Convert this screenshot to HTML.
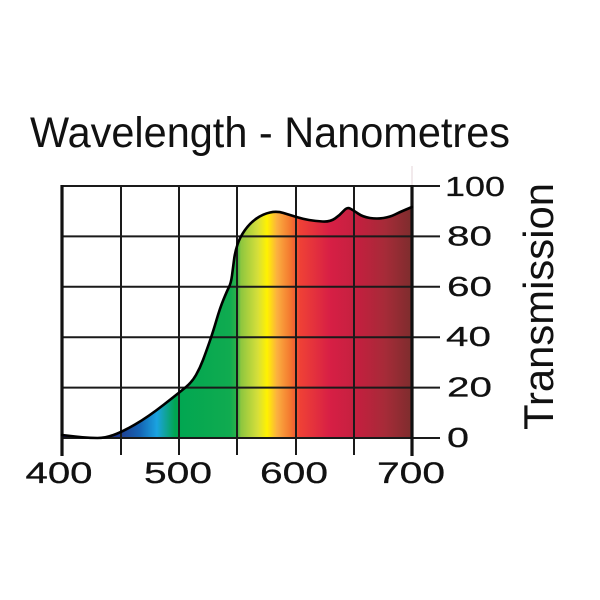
<!DOCTYPE html>
<html>
<head>
<meta charset="utf-8">
<style>
html,body{margin:0;padding:0;background:#fff;}
svg{display:block;}
text{font-family:"Liberation Sans",Arial,sans-serif;fill:#111;}
</style>
</head>
<body>
<svg width="600" height="600" viewBox="0 0 600 600" xmlns="http://www.w3.org/2000/svg">
<defs>
<linearGradient id="spec" gradientUnits="userSpaceOnUse" x1="62" y1="0" x2="412" y2="0">
<stop offset="0" stop-color="#1b1464"/>
<stop offset="0.11" stop-color="#1b2a7a"/>
<stop offset="0.166" stop-color="#1f3d8f"/>
<stop offset="0.223" stop-color="#1565b5"/>
<stop offset="0.271" stop-color="#1aa3e0"/>
<stop offset="0.294" stop-color="#12a3a0"/>
<stop offset="0.323" stop-color="#00a651"/>
<stop offset="0.48" stop-color="#10ab50"/>
<stop offset="0.5" stop-color="#2cb34a"/>
<stop offset="0.511" stop-color="#8dc63f"/>
<stop offset="0.56" stop-color="#d7df3a"/>
<stop offset="0.586" stop-color="#fff200"/>
<stop offset="0.614" stop-color="#fbb040"/>
<stop offset="0.651" stop-color="#f47a30"/>
<stop offset="0.68" stop-color="#ef4136"/>
<stop offset="0.766" stop-color="#d71f45"/>
<stop offset="0.851" stop-color="#c1203e"/>
<stop offset="0.923" stop-color="#a62b38"/>
<stop offset="1" stop-color="#7d2d2d"/>
</linearGradient>
</defs>

<!-- title -->
<text x="30" y="147" font-size="43" textLength="480" lengthAdjust="spacingAndGlyphs">Wavelength - Nanometres</text>

<!-- faint line -->
<line x1="412" y1="166" x2="412" y2="186" stroke="#e6d4d8" stroke-width="1"/>

<!-- fill -->
<path fill="url(#spec)" d="M62,435 L68.5,435.75 Q75,436.5 82.5,437.25 Q90,438 97.5,438 Q105,438 113.5,435 Q122,432 135,424.5 Q148,417 164,404.5 Q180,392 186,387 Q192,382 196,375 Q200,368 203,360 Q206,352 209.5,342 Q213,332 216.5,320 Q220,308 223.5,299.5 Q227,291 229,287 Q231,283 232,275.5 Q233,268 234,260 Q235,252 237.5,244.5 Q240,237 245,230 Q250,223 256.5,218.5 Q263,214 270,212.5 Q277,211 283.5,213 Q290,215 296.5,217 Q303,219 309,220 Q315,221 322.5,221.5 Q330,222 335,218.5 Q340,215 343.5,211 Q347,207 350,208.5 Q353,210 358,213.5 Q363,217 370,218 Q377,219 383.5,218 Q390,217 395,214.5 Q400,212 406,209.5 L412,207 L412,438 L62,438 Z"/>

<!-- grid -->
<g stroke="#1a1a1a" stroke-width="2" fill="none">
<line x1="62" y1="186" x2="440" y2="186"/>
<line x1="62" y1="236.4" x2="440" y2="236.4"/>
<line x1="62" y1="286.8" x2="440" y2="286.8"/>
<line x1="62" y1="337.2" x2="440" y2="337.2"/>
<line x1="62" y1="387.6" x2="440" y2="387.6"/>
<line x1="62" y1="438" x2="440" y2="438"/>
<line x1="121" y1="186" x2="121" y2="455"/>
<line x1="179" y1="186" x2="179" y2="455"/>
<line x1="237" y1="186" x2="237" y2="455"/>
<line x1="296" y1="186" x2="296" y2="455"/>
<line x1="354" y1="186" x2="354" y2="455"/>
</g>
<g stroke="#111" stroke-width="3.2">
<line x1="62" y1="185" x2="62" y2="456"/>
<line x1="412" y1="185" x2="412" y2="456"/>
</g>

<!-- curve -->
<path fill="none" stroke="#000" stroke-width="2.6" stroke-linejoin="round" stroke-linecap="round" d="M62,435 L68.5,435.75 Q75,436.5 82.5,437.25 Q90,438 97.5,438 Q105,438 113.5,435 Q122,432 135,424.5 Q148,417 164,404.5 Q180,392 186,387 Q192,382 196,375 Q200,368 203,360 Q206,352 209.5,342 Q213,332 216.5,320 Q220,308 223.5,299.5 Q227,291 229,287 Q231,283 232,275.5 Q233,268 234,260 Q235,252 237.5,244.5 Q240,237 245,230 Q250,223 256.5,218.5 Q263,214 270,212.5 Q277,211 283.5,213 Q290,215 296.5,217 Q303,219 309,220 Q315,221 322.5,221.5 Q330,222 335,218.5 Q340,215 343.5,211 Q347,207 350,208.5 Q353,210 358,213.5 Q363,217 370,218 Q377,219 383.5,218 Q390,217 395,214.5 Q400,212 406,209.5 L412,207"/>

<!-- bottom labels -->
<g font-size="30" text-anchor="middle" stroke="#111" stroke-width="0.3">
<text x="59" y="483" textLength="67" lengthAdjust="spacingAndGlyphs">400</text>
<text x="178" y="483" textLength="68" lengthAdjust="spacingAndGlyphs">500</text>
<text x="294" y="483" textLength="68" lengthAdjust="spacingAndGlyphs">600</text>
<text x="411" y="483" textLength="68" lengthAdjust="spacingAndGlyphs">700</text>
</g>

<!-- right labels -->
<g font-size="28" stroke="#111" stroke-width="0.25">
<text x="445" y="196" textLength="60" lengthAdjust="spacingAndGlyphs">100</text>
<text x="447" y="245.5" textLength="45" lengthAdjust="spacingAndGlyphs">80</text>
<text x="447" y="296" textLength="45" lengthAdjust="spacingAndGlyphs">60</text>
<text x="446" y="346" textLength="45" lengthAdjust="spacingAndGlyphs">40</text>
<text x="447" y="396.5" textLength="45" lengthAdjust="spacingAndGlyphs">20</text>
<text x="447" y="447" textLength="22" lengthAdjust="spacingAndGlyphs">0</text>
</g>

<!-- y title -->
<text transform="translate(553,430) rotate(-90)" x="0" y="0" font-size="42" textLength="247" lengthAdjust="spacingAndGlyphs">Transmission</text>
</svg>
</body>
</html>
